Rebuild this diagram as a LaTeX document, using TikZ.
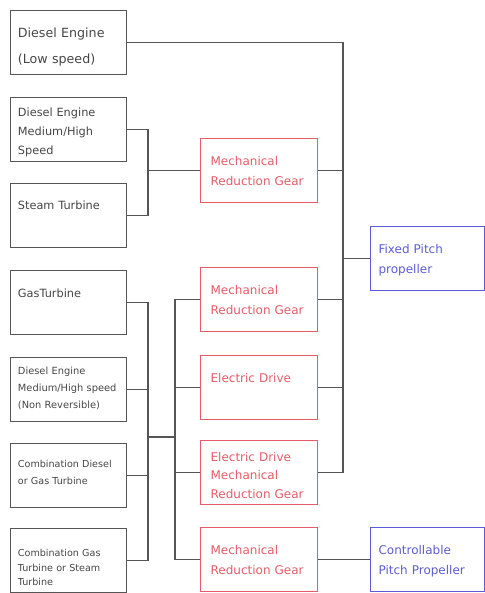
\documentclass[tikz,border=0pt]{standalone}
\usepackage{fontspec}
\setmainfont{DejaVu Sans}
\definecolor{linegray}{RGB}{85,85,85}
\definecolor{textgray}{RGB}{70,70,70}
\definecolor{gearred}{RGB}{228,92,104}
\definecolor{propblue}{RGB}{92,92,215}
\tikzset{
  engine/.style={draw=linegray, text=textgray, line width=0.9pt, anchor=north west, align=left,
    inner xsep=5.5pt, inner ysep=0pt, text width=76pt, text height=20pt, text depth=28pt},
  gear/.style={engine, draw=gearred, text=gearred, inner xsep=7.5pt, text width=72.75pt, font=\fontsize{9}{15}\selectfont},
  prop/.style={engine, draw=propblue, text=propblue, inner xsep=6pt, text width=73.5pt, font=\fontsize{9}{15}\selectfont},
  shaft/.style={draw=linegray, line width=0.9pt},
}
\begin{document}
\begin{tikzpicture}[x=0.75pt,y=0.75pt,yscale=-1,xscale=1]
\useasboundingbox (0,0) rectangle (485,593);

%Shape: Rectangle [prime movers]
\node[engine, font=\fontsize{9.5}{20}\selectfont] (dlow) at (10,10) {Diesel Engine\\(Low speed)};
\node[engine, font=\fontsize{8.5}{14}\selectfont, text height=14.4pt, text depth=33.6pt] (dmed) at (10,97) {Diesel Engine\\Medium/High\\Speed};
\node[engine, font=\fontsize{8.5}{14}\selectfont, text height=19.5pt, text depth=28.5pt] (steam) at (10,183) {Steam Turbine};
\node[engine, font=\fontsize{8.5}{14}\selectfont] (gas) at (10,270) {GasTurbine};
\node[engine, font=\fontsize{7.4}{12.75}\selectfont, text height=12.5pt, text depth=35.5pt] (dnr) at (10,357) {Diesel Engine\\Medium/High speed\\(Non Reversible)};
\node[engine, font=\fontsize{7.2}{13}\selectfont, text height=17.6pt, text depth=30.4pt] (cdg) at (10,443) {Combination Diesel\\or Gas Turbine};
\node[engine, font=\fontsize{7.2}{11}\selectfont, text height=21pt, text depth=27pt] (cgs) at (10,528) {Combination Gas\\Turbine or Steam\\Turbine};

%Shape: Rectangle [transmissions]
\node[gear] (mrga) at (200,138) {Mechanical\\Reduction Gear};
\node[gear] (mrgb) at (200,267) {Mechanical\\Reduction Gear};
\node[gear] (edrv) at (200,355) {Electric Drive};
\node[gear, text height=15.4pt, text depth=32.6pt, font=\fontsize{9}{14}\selectfont] (edmrg) at (200,440) {Electric Drive\\Mechanical\\Reduction Gear};
\node[gear] (mrgc) at (200,527) {Mechanical\\Reduction Gear};

%Shape: Rectangle [propellers]
\node[prop] (fpp) at (370,226) {Fixed Pitch\\propeller};
\node[prop] (cpp) at (370,527) {Controllable\\Pitch Propeller};

%Junctions
\coordinate (shaftx) at (343,0);
\coordinate (busa) at (148,0);
\coordinate (busb) at (148,437);
\coordinate (busc) at (175,437);

%Straight Lines [to fixed pitch]
\draw[shaft] (dlow.east) -| (shaftx |- edmrg.east) -- (edmrg.east);
\draw[shaft] (mrga.east) -- (mrga.east -| shaftx);
\draw[shaft] (mrgb.east) -- (mrgb.east -| shaftx);
\draw[shaft] (edrv.east) -- (edrv.east -| shaftx);
\draw[shaft] (fpp.west) -- (fpp.west -| shaftx);
%Straight Lines [first group]
\draw[shaft] (dmed.east) -| (busa |- mrga.west) |- (steam.east);
\draw[shaft] (busa |- mrga.west) -- (mrga.west);
%Straight Lines [second group]
\draw[shaft] (gas.east) -| (busb) |- (cgs.east);
\draw[shaft] (dnr.east) -- (dnr.east -| busb);
\draw[shaft] (cdg.east) -- (cdg.east -| busb);
\draw[shaft] (busb) -- (busc);
\draw[shaft] (mrgb.west) -| (busc) |- (mrgc.west);
\draw[shaft] (edrv.west) -- (edrv.west -| busc);
\draw[shaft] (edmrg.west) -- (edmrg.west -| busc);
%Straight Lines [to controllable pitch]
\draw[shaft] (mrgc.east) -- (cpp.west);

\end{tikzpicture}
\end{document}
